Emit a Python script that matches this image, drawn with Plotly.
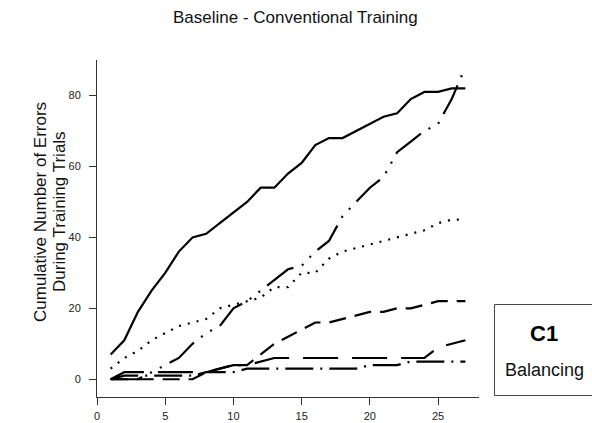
import plotly.graph_objects as go

trials = list(range(1, 28))
solid_s = [7, 11, 19, 25, 30, 36, 40, 41, 44, 47, 50, 54, 54, 58, 61, 66, 68, 68, 70, 72, 74, 75, 79, 81, 81, 82, 82]
dashdotdot_s = [0, 0, 0, 2, 4, 6, 10, 13, 15, 20, 22, 25, 28, 31, 32, 36, 39, 46, 50, 54, 57, 64, 67, 70, 72, 79, 88]
dotted_s = [3, 6, 8, 11, 13, 15, 16, 17, 20, 21, 22, 23, 26, 26, 30, 30, 34, 36, 37, 38, 39, 40, 41, 42, 44, 45, 45]
dashed_s = [0, 0, 0, 0, 0, 0, 0, 2, 3, 4, 4, 7, 10, 12, 14, 16, 16, 17, 18, 19, 19, 20, 20, 21, 22, 22, 22]
longdash_s = [0, 2, 2, 2, 2, 2, 2, 2, 3, 4, 4, 5, 6, 6, 6, 6, 6, 6, 6, 6, 6, 6, 6, 6, 9, 10, 11]
longdashdot_s = [0, 1, 1, 1, 1, 1, 1, 2, 2, 2, 3, 3, 3, 3, 3, 3, 3, 3, 3, 4, 4, 4, 5, 5, 5, 5, 5]

x_ticks = [0, 5, 10, 15, 20, 25]
y_ticks = [0, 20, 40, 60, 80]

title_text = "Baseline - Conventional Training"
ytitle_line1 = "Cumulative Number of Errors"
ytitle_line2 = "During Training Trials"
box_title = "C1"
box_label = "Balancing"

W, H = 592, 423
ML, MR, MT, MB = 97, 113, 60, 26
PW = W - ML - MR
PH = H - MT - MB


def px(xp):
    return (xp - ML) / PW


def py(yp):
    return (H - MB - yp) / PH


FONT = "Liberation Sans, Arial, sans-serif"

fig = go.Figure()
series = [
    (solid_s, "solid"),
    (dashdotdot_s, "32px,9px,2px,9px,2px,9px"),
    (dotted_s, "2px,7px"),
    (dashed_s, "17px,9px"),
    (longdash_s, "35px,14px"),
    (longdashdot_s, "28px,7px,2px,7px"),
]
for vals, dash in series:
    fig.add_trace(go.Scatter(x=trials, y=vals, mode="lines",
                             line=dict(color="black", width=2.2, dash=dash),
                             showlegend=False, hoverinfo="skip"))

fig.update_layout(
    width=W, height=H,
    margin=dict(l=ML, r=MR, t=MT, b=MB, pad=0, autoexpand=False),
    paper_bgcolor="white", plot_bgcolor="white",
    font=dict(family=FONT, color="black"),
    showlegend=False,
    xaxis=dict(range=[0, 28], tickvals=x_ticks, ticks="outside", ticklen=7,
               tickwidth=1, tickcolor="#333", showline=True, linecolor="#333",
               linewidth=1, showgrid=False, zeroline=False, automargin=False,
               ticklabelstandoff=2,
               tickfont=dict(size=11, family=FONT, color="#222")),
    yaxis=dict(range=[-5, 90], tickvals=y_ticks, ticks="outside", ticklen=7,
               tickwidth=1, tickcolor="#333", showline=True, linecolor="#333",
               linewidth=1, showgrid=False, zeroline=False, automargin=False,
               ticklabelstandoff=6,
               tickfont=dict(size=11, family=FONT, color="#222")),
)

fig.add_annotation(text=title_text, xref="paper", yref="paper",
                   x=px(295.5), y=py(18), showarrow=False,
                   xanchor="center", yanchor="middle",
                   font=dict(size=17, family=FONT, color="#111"))
fig.add_annotation(text=ytitle_line1, xref="paper", yref="paper",
                   x=px(40), y=py(212), showarrow=False, textangle=-90,
                   xanchor="center", yanchor="middle",
                   font=dict(size=17, family=FONT, color="#111"))
fig.add_annotation(text=ytitle_line2, xref="paper", yref="paper",
                   x=px(59), y=py(212), showarrow=False, textangle=-90,
                   xanchor="center", yanchor="middle",
                   font=dict(size=17, family=FONT, color="#111"))

fig.add_shape(type="rect", xref="paper", yref="paper",
              x0=px(494.5), x1=px(600), y0=py(395.5), y1=py(304.5),
              line=dict(color="#444", width=1), fillcolor="rgba(0,0,0,0)")
fig.add_annotation(text="<b>%s</b>" % box_title, xref="paper", yref="paper",
                   x=px(543.5), y=py(333), showarrow=False,
                   xanchor="center", yanchor="middle",
                   font=dict(size=22, family=FONT, color="black"))
fig.add_annotation(text=box_label, xref="paper", yref="paper",
                   x=px(544), y=py(370), showarrow=False,
                   xanchor="center", yanchor="middle",
                   font=dict(size=18, family=FONT, color="#111"))

fig.write_html("out.html")
